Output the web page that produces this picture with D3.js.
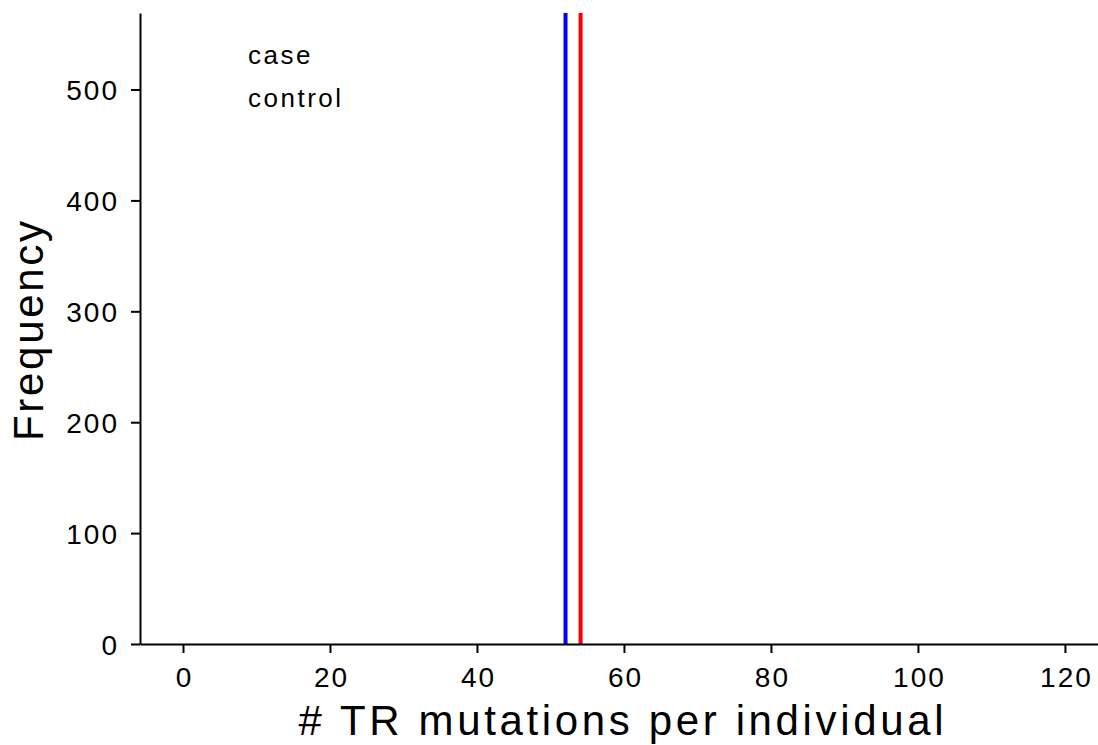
<!DOCTYPE html>
<html>
<head>
<meta charset="utf-8">
<script src="https://cdn.jsdelivr.net/npm/d3@7"></script>
<style>
  html, body { margin: 0; padding: 0; background: #fff; }
  text { font-family: "Liberation Sans", Arial, sans-serif; fill: #000; }
</style>
</head>
<body>
<svg id="chart" width="1098" height="745"></svg>
<script>
// Groups and the mean number of TR mutations per individual in each
const groups = ["case", "control"];
const groupMeans = [52.05, 54.1];
const groupColors = ["#0000ff", "#ff0000"];

// Axis ticks
const xTicks = [0, 20, 40, 60, 80, 100, 120];
const yTicks = [0, 100, 200, 300, 400, 500];

const xDomain = [-5.85, 124.5];
const yDomain = [0, 569];

const svg = d3.select("#chart");
const plotLeft = 140, plotRight = 1098, plotTop = 13, plotBottom = 644;
const tickFont = "28px";

const x = d3.scaleLinear().domain(xDomain).range([plotLeft, plotRight]);
const y = d3.scaleLinear().domain(yDomain).range([plotBottom, plotTop]);

// Mean lines
svg.append("g").selectAll("line")
  .data(groups.map((g, i) => ({ g, m: groupMeans[i], c: groupColors[i] })))
  .join("line")
  .attr("x1", d => x(d.m)).attr("x2", d => x(d.m))
  .attr("y1", y(yDomain[0])).attr("y2", y(yDomain[1]))
  .attr("stroke", d => d.c)
  .attr("stroke-width", 4);

// X axis
const xAxis = svg.append("g")
  .attr("transform", `translate(0,${plotBottom})`)
  .call(d3.axisBottom(x).tickValues(xTicks).tickSize(9).tickSizeOuter(0));
xAxis.select(".domain").attr("stroke", "#000").attr("stroke-width", 2);
xAxis.selectAll(".tick line").attr("stroke", "#000").attr("stroke-width", 2);
xAxis.selectAll(".tick text")
  .attr("y", 43).attr("dy", 0).attr("dx", 1)
  .style("font-family", "'Liberation Sans', Arial, sans-serif")
  .style("letter-spacing", "2px")
  .style("font-size", tickFont).attr("fill", "#000");

// Y axis
const yAxis = svg.append("g")
  .attr("transform", `translate(${plotLeft},0)`)
  .call(d3.axisLeft(y).tickValues(yTicks).tickSize(9).tickSizeOuter(0));
yAxis.select(".domain").attr("stroke", "#000").attr("stroke-width", 2);
yAxis.selectAll(".tick line").attr("stroke", "#000").attr("stroke-width", 2);
yAxis.selectAll(".tick text")
  .attr("x", -21).attr("dy", "0.36em")
  .style("font-family", "'Liberation Sans', Arial, sans-serif")
  .style("letter-spacing", "2px")
  .style("font-size", tickFont).attr("fill", "#000");

// Axis titles
svg.append("text")
  .attr("x", 621).attr("y", 735)
  .attr("text-anchor", "middle")
  .attr("textLength", 645)
  .attr("lengthAdjust", "spacing")
  .style("font-size", "42px")
  .text("#  TR mutations per individual");

svg.append("text")
  .attr("transform", "translate(43,331) rotate(-90)")
  .attr("text-anchor", "middle")
  .attr("textLength", 220)
  .attr("lengthAdjust", "spacing")
  .style("font-size", "42px")
  .text("Frequency");

// Legend labels
svg.append("g").selectAll("text")
  .data(groups)
  .join("text")
  .attr("x", 248)
  .attr("y", (d, i) => 64 + i * 43)
  .style("font-size", "26px")
  .style("letter-spacing", "2.5px")
  .text(d => d);
</script>
</body>
</html>
